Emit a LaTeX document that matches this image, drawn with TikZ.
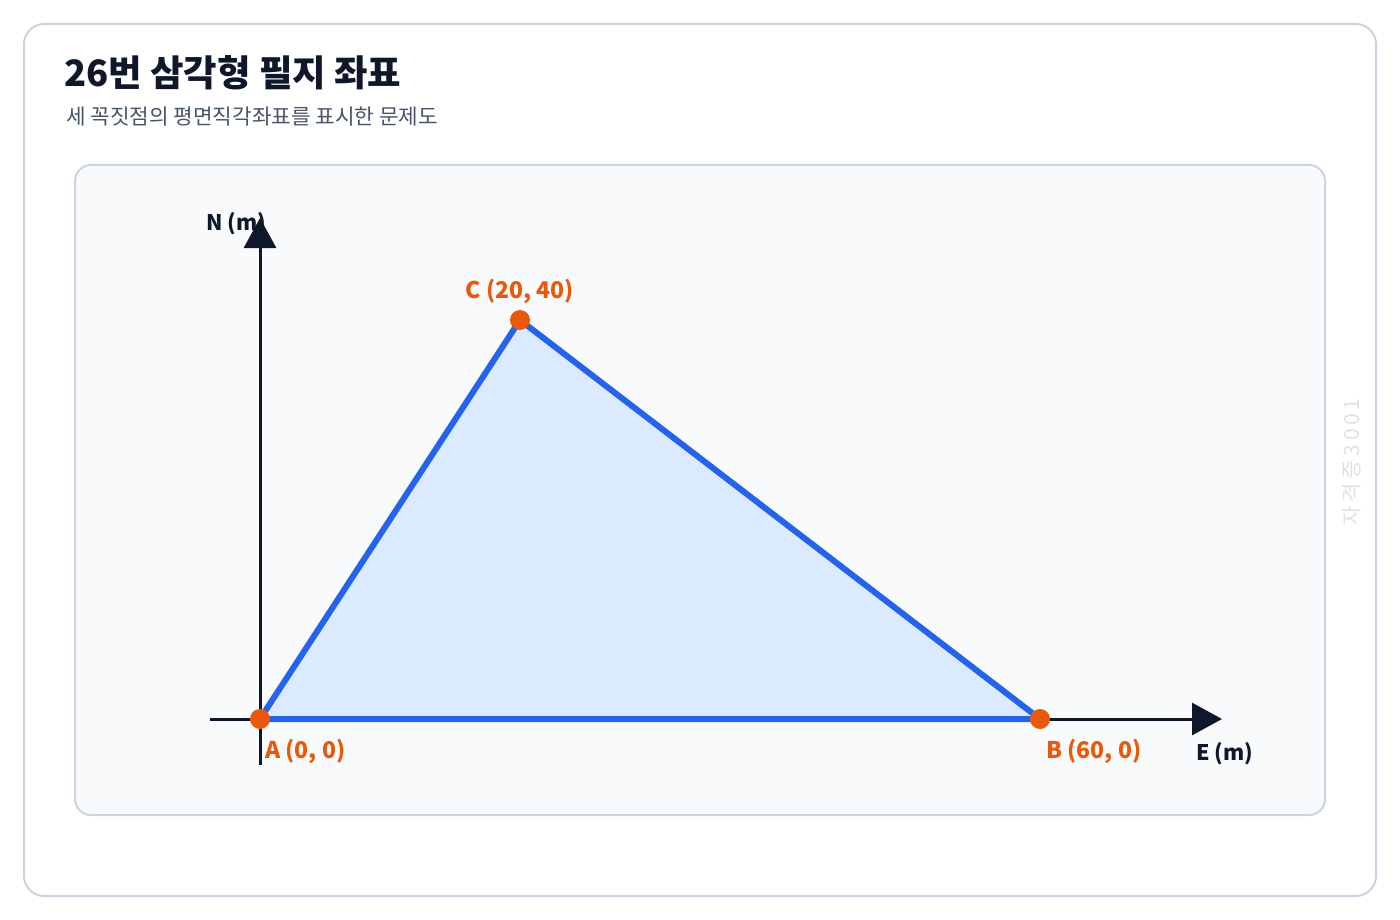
\documentclass[tikz,border=0pt]{standalone}
\usepackage{fontspec}
\setmainfont{Noto Sans CJK KR}
\newfontfamily\wmfont[LetterSpace=18]{Noto Sans CJK KR}
\usetikzlibrary{arrows.meta}
\definecolor{ink}{HTML}{0F172A}
\definecolor{sub}{HTML}{475569}
\definecolor{edge}{HTML}{CBD5E1}
\definecolor{panel}{HTML}{F8FAFC}
\definecolor{tri}{HTML}{2563EB}
\definecolor{trifill}{HTML}{DBEAFE}
\definecolor{pt}{HTML}{EA580C}
\definecolor{wm}{HTML}{DDE2E8}
\tikzset{
  axisline/.style={draw=ink, line width=3pt, -{Triangle[length=30pt,width=32pt]}},
  vertex/.style={circle, fill=pt, inner sep=0pt, minimum size=20pt},
  ptlabel/.style={text=pt, font=\fontsize{23}{27}\selectfont\bfseries, inner sep=0pt},
  axlabel/.style={text=ink, font=\fontsize{21.5}{25}\selectfont\bfseries, inner sep=0pt},
}
\begin{document}
\begin{tikzpicture}[x=1pt,y=-1pt]
\useasboundingbox (0,0) rectangle (1400,920);
\fill[white] (0,0) rectangle (1400,920);
\draw[edge, line width=2pt, fill=white, rounded corners=20pt] (24,24) rectangle (1376,896);
\node[anchor=base west, inner sep=0pt, text=ink, font=\fontsize{36.4}{42}\selectfont\bfseries] (title) at (64,87) {26번 삼각형 필지 좌표};
\node[anchor=base west, inner sep=0pt, text=sub, font=\fontsize{21.3}{25}\selectfont] (subtitle) at (66,125) {세 꼭짓점의 평면직각좌표를 표시한 문제도};
\draw[edge, line width=2pt, fill=panel, rounded corners=16pt] (75,165) rectangle (1325,815);
\coordinate (xs) at (210,719);
\coordinate (xe) at (1222,719);
\coordinate (ys) at (260,765);
\coordinate (ye) at (260,218);
\draw[axisline] (ys) -- (ye);
\draw[axisline] (xs) -- (xe);
\coordinate (A) at (260,719);
\coordinate (B) at (1040,719);
\coordinate (C) at (520,320);
\draw[tri, fill=trifill, line width=6pt, line join=miter] (A) -- (B) -- (C) -- cycle;
\node[vertex] (pA) at (A) {};
\node[vertex] (pB) at (B) {};
\node[vertex] (pC) at (C) {};
\node[ptlabel, anchor=base west] (lA) at (265,758) {A (0, 0)};
\node[ptlabel, anchor=base west] (lB) at (1046,758) {B (60, 0)};
\node[ptlabel, anchor=base] (lC) at (520,298) {C (20, 40)};
\node[axlabel, anchor=base west] (lN) at (206,230) {N (m)};
\node[axlabel, anchor=base west] (lE) at (1196,760) {E (m)};
\node[text=wm, font=\fontsize{21}{25}\wmfont, rotate=90, inner sep=0pt] (wmark) at (1352,462) {자격증3001};
\end{tikzpicture}
\end{document}
